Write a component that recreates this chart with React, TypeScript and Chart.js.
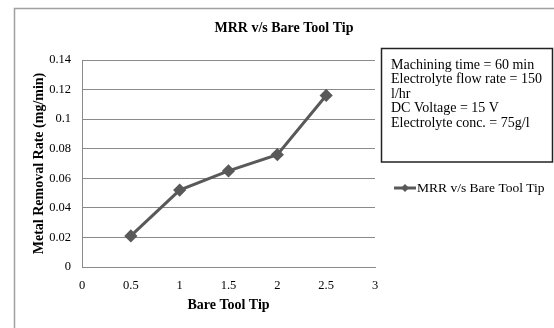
import React, { useEffect, useRef } from "react";
import { Chart, registerables } from "chart.js";

Chart.register(...registerables);

const xValues = [0.5, 1, 1.5, 2, 2.5];
const mrrValues = [0.021, 0.052, 0.065, 0.076, 0.116];
const chartTitle = "MRR v/s Bare Tool Tip";
const xTitle = "Bare Tool Tip";
const yTitle = "Metal Removal Rate (mg/min)";
const seriesLabel = "MRR v/s Bare Tool Tip";
const infoLines = [
  "Machining time = 60 min",
  "Electrolyte flow rate = 150",
  "l/hr",
  "DC Voltage = 15 V",
  "Electrolyte conc. = 75g/l",
];

const SERIF = "'Liberation Serif', 'Times New Roman', serif";
const LINE = "#595959";

const decorPlugin = {
  id: "decor",
  afterDraw(chart: any) {
    const ctx = chart.ctx as CanvasRenderingContext2D;
    ctx.save();
    // outer frame
    ctx.strokeStyle = "#a0a0a0";
    ctx.lineWidth = 1.5;
    ctx.strokeRect(14.5, 8.5, 700, 500);
    // title
    ctx.fillStyle = "#000";
    ctx.font = `bold 14px ${SERIF}`;
    ctx.textAlign = "center";
    ctx.textBaseline = "middle";
    ctx.fillText(chartTitle, 284, 28);
    // info box
    ctx.fillStyle = "#fff";
    ctx.fillRect(381, 48, 172, 114);
    ctx.strokeStyle = "#222";
    ctx.lineWidth = 1.5;
    ctx.strokeRect(381.5, 48.5, 171, 113.5);
    ctx.fillStyle = "#000";
    ctx.font = `14px ${SERIF}`;
    ctx.textAlign = "left";
    infoLines.forEach((t, i) => {
      ctx.fillText(t, 391, 65 + i * 14.5);
    });
    // legend
    ctx.strokeStyle = LINE;
    ctx.lineWidth = 3;
    ctx.beginPath();
    ctx.moveTo(394, 188);
    ctx.lineTo(416, 188);
    ctx.stroke();
    ctx.fillStyle = LINE;
    ctx.beginPath();
    ctx.moveTo(405, 184);
    ctx.lineTo(409, 188);
    ctx.lineTo(405, 192);
    ctx.lineTo(401, 188);
    ctx.closePath();
    ctx.fill();
    ctx.fillStyle = "#000";
    ctx.font = `13.5px ${SERIF}`;
    ctx.fillText(seriesLabel, 417, 188);
    ctx.restore();
  },
};

export default function App() {
  const ref = useRef<HTMLCanvasElement>(null);
  useEffect(() => {
    if (!ref.current) return;
    const chart = new Chart(ref.current, {
      type: "line",
      data: {
        datasets: [
          {
            label: seriesLabel,
            data: xValues.map((x, i) => ({ x, y: mrrValues[i] })),
            borderColor: LINE,
            backgroundColor: LINE,
            borderWidth: 3,
            pointStyle: "rectRot",
            pointRadius: 4.5,
            pointBackgroundColor: LINE,
            pointBorderColor: LINE,
            tension: 0,
          },
        ],
      },
      options: {
        responsive: false,
        animation: false,
        layout: { padding: { top: 60, right: 179, left: 0, bottom: 0 } },
        plugins: {
          legend: { display: false },
          title: { display: false },
          tooltip: { enabled: false },
        },
        scales: {
          x: {
            type: "linear",
            min: 0,
            max: 3,
            afterFit: (s: any) => {
              s.height = 61;
            },
            ticks: {
              stepSize: 0.5,
              padding: 11,
              color: "#000",
              font: { family: SERIF, size: 12.5 },
              callback: (v: any) => String(Number(Number(v).toFixed(2))),
            },
            grid: { display: true, drawOnChartArea: false, drawTicks: false },
            border: { display: true, color: "#8a8a8a", width: 1 },
            title: {
              display: true,
              text: xTitle,
              color: "#000",
              font: { family: SERIF, size: 14, weight: "bold" },
              padding: { top: 0, bottom: 14 },
            },
          },
          y: {
            type: "linear",
            min: 0,
            max: 0.14,
            afterFit: (s: any) => {
              s.width = 82;
            },
            ticks: {
              stepSize: 0.02,
              padding: 11,
              color: "#000",
              font: { family: SERIF, size: 12.5 },
              callback: (v: any) => String(Number(Number(v).toFixed(2))),
            },
            grid: { color: "#8a8a8a", lineWidth: 1, drawTicks: false },
            border: { display: true, color: "#8a8a8a", width: 1 },
            title: {
              display: true,
              text: yTitle,
              color: "#000",
              font: { family: SERIF, size: 14, weight: "bold" },
              padding: { top: 31, bottom: 0 },
            },
          },
        },
      },
      plugins: [decorPlugin],
    });
    return () => chart.destroy();
  }, []);
  return (
    <div style={{ position: "fixed", left: 0, top: 0, width: 554, height: 328, background: "#fff" }}>
      <canvas ref={ref} width={554} height={328} style={{ display: "block" }} />
    </div>
  );
}
